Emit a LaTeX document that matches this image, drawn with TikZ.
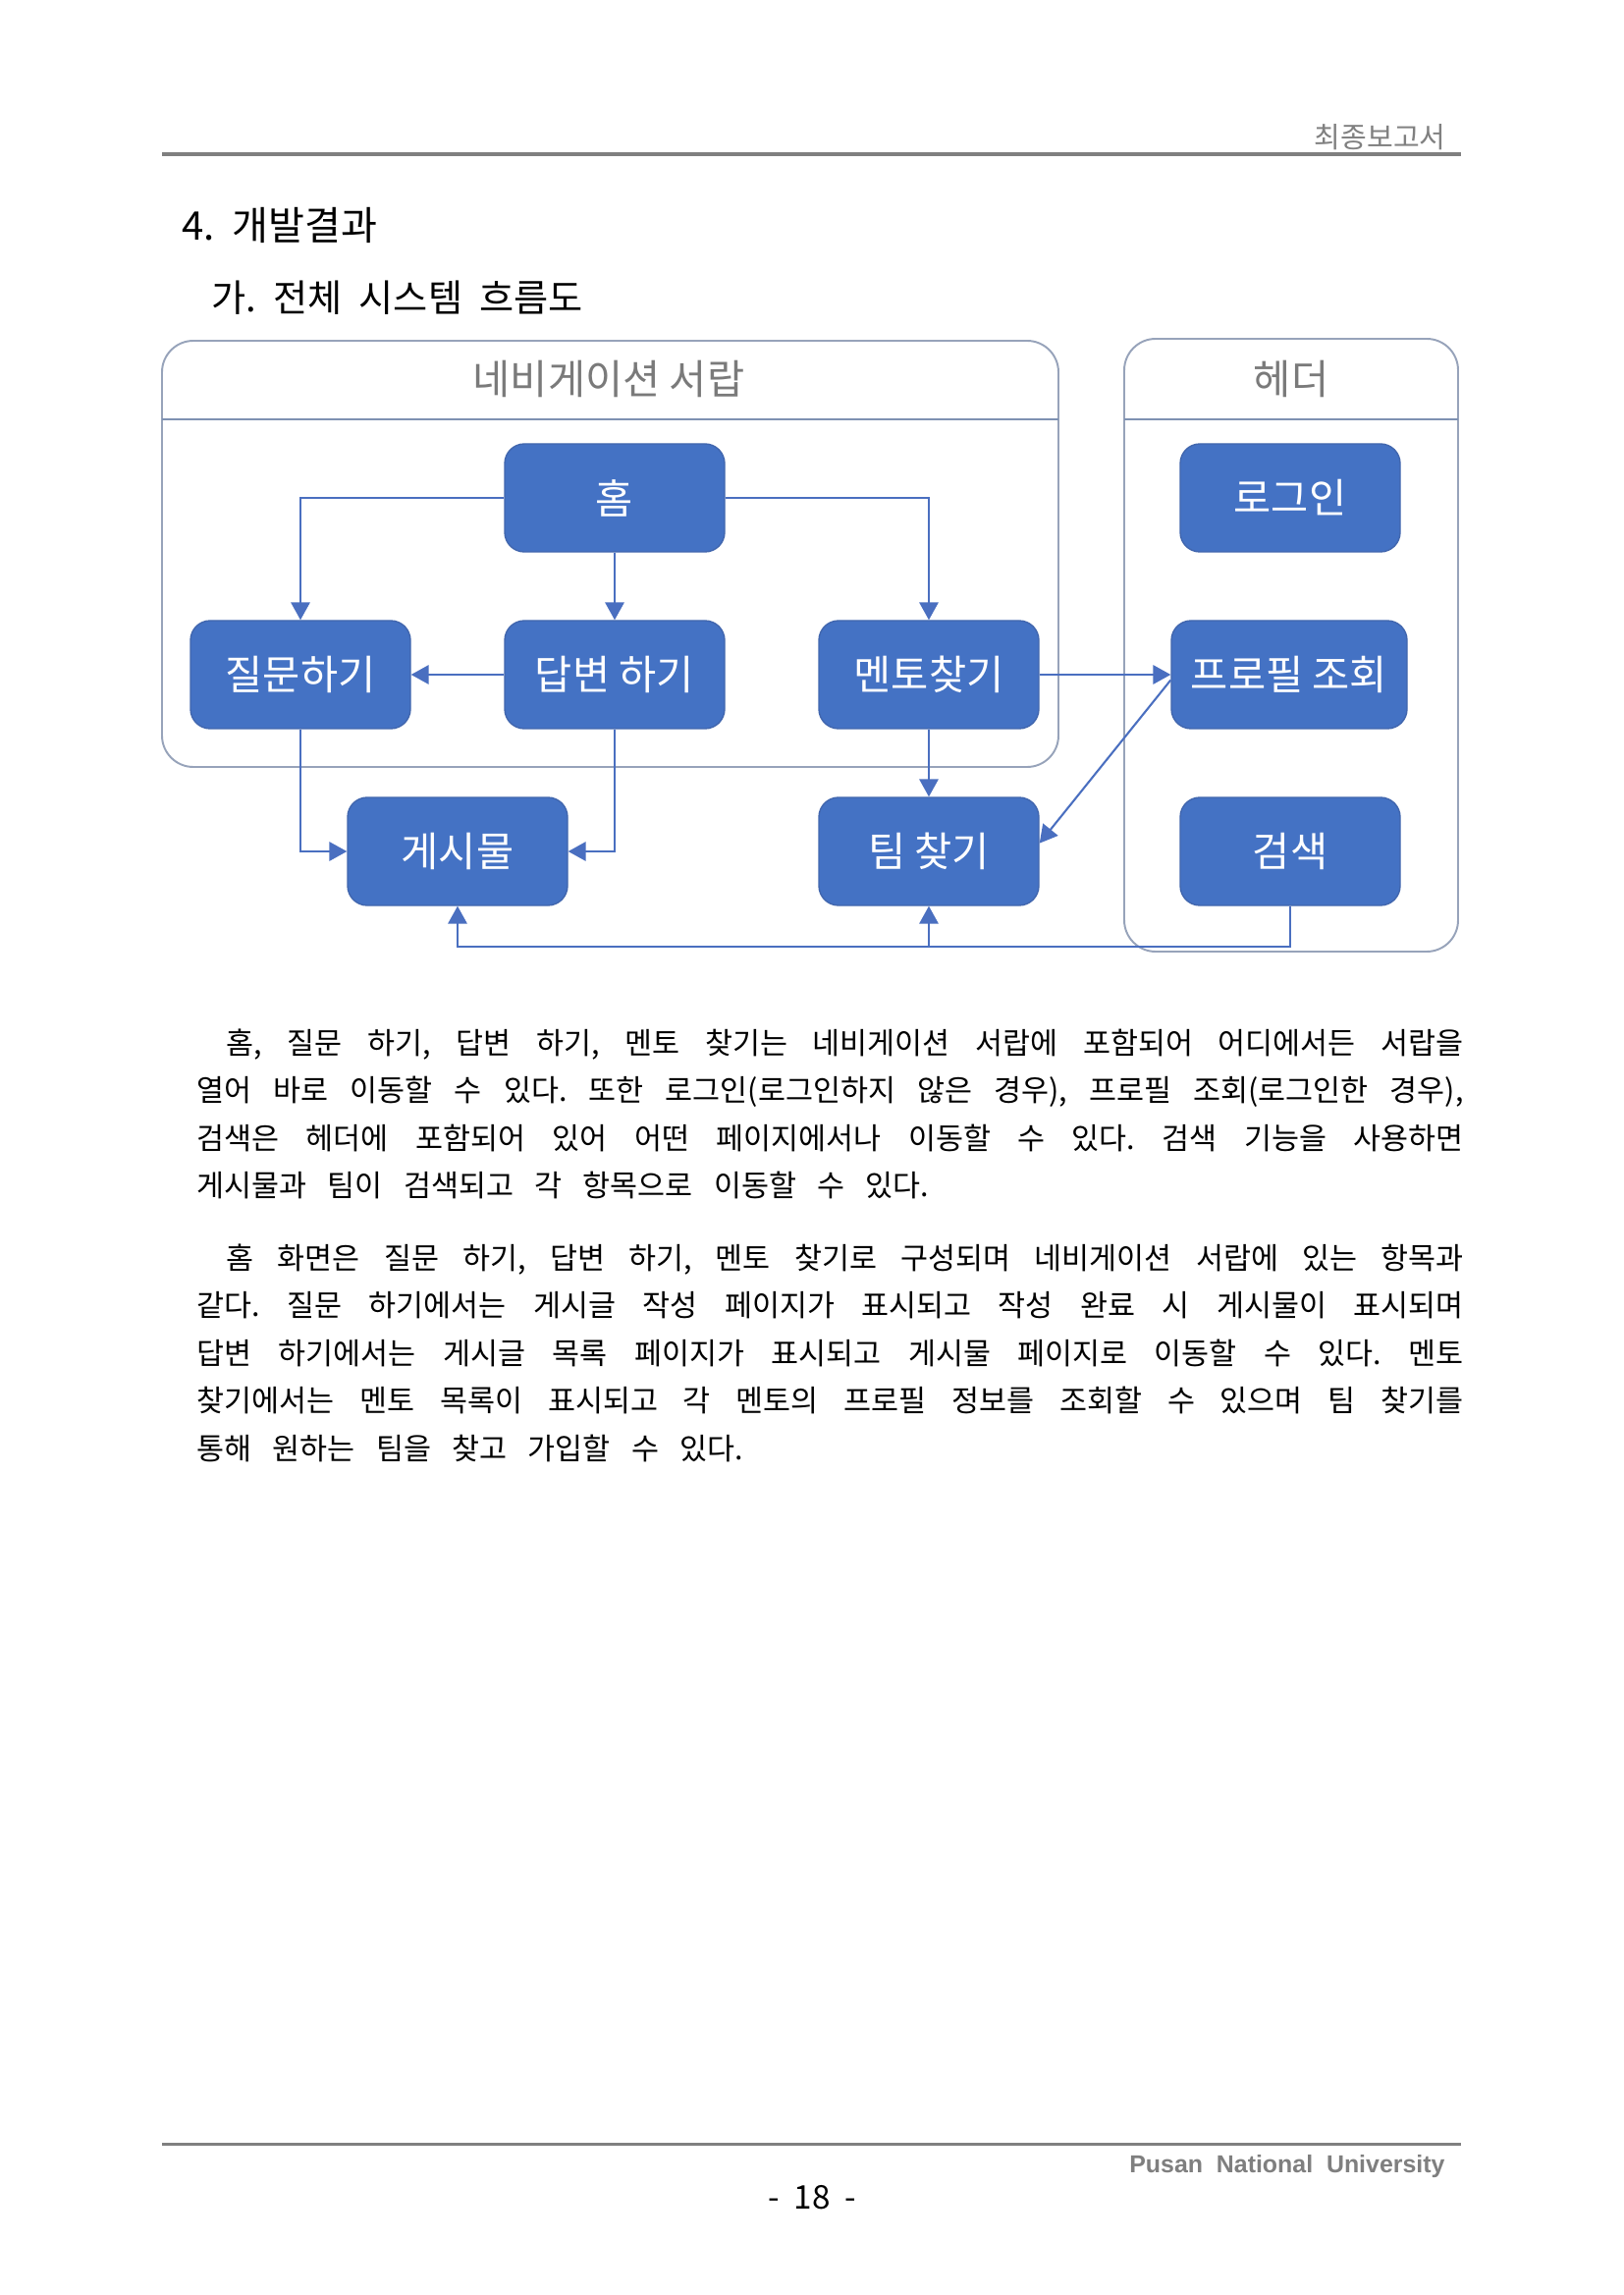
\documentclass[tikz,border=0pt]{standalone}
\usepackage{fontspec}
\setmainfont{Noto Sans CJK KR}
\newfontfamily\arialbold{Liberation Sans}[BoldFont={* Bold}]
\usetikzlibrary{arrows.meta}
\newlength\px
\setlength\px{0.127mm}
\definecolor{boxblue}{HTML}{4472C4}
\definecolor{boxedge}{HTML}{4166AE}
\definecolor{linkblue}{HTML}{4A6FC0}
\definecolor{frame}{HTML}{97A3BA}
\definecolor{sepline}{HTML}{7E91B2}
\definecolor{titlegray}{HTML}{7A7A7A}
\definecolor{rulegray}{HTML}{7F7F7F}
\newcommand{\jline}[2]{\makebox[#1\px][s]{#2}}
\newcommand{\bodyfont}{\fontsize{11pt}{13pt}\selectfont\spaceskip=0.7em plus 0.4em minus 0.3em\relax}
\frenchspacing
\begin{document}
\begin{tikzpicture}[x=0.127mm,y=-0.127mm,
  flowbox/.style={draw=boxedge, line width=0.5pt, fill=boxblue, rounded corners=20\px,
    minimum width=224\px, minimum height=110\px, inner sep=0pt, text=white,
    font=\fontsize{15pt}{18pt}\selectfont},
  container/.style={draw=frame, line width=0.7pt, fill=white, rounded corners=32\px},
  ctitle/.style={text=titlegray, inner sep=0pt, font=\fontsize{15pt}{18pt}\selectfont},
  conn/.style={draw=linkblue, line width=0.75pt, -{Triangle[length=6.5pt,width=7pt]}},
  body/.style={anchor=base west, inner sep=0pt, font=\bodyfont},
  rulestyle/.style={draw=rulegray, line width=1.1pt}
  ]
\useasboundingbox[fill=white] (0,0) rectangle (1653,2337);

% page header
\draw[rulestyle] (165,157) -- (1488,157);
\node[anchor=base east, inner sep=0pt, text=gray, font=\fontsize{10.5pt}{12pt}\selectfont] (hdr) at (1473,151) {최종보고서};

% headings
\node[anchor=base west, inner sep=0pt, font=\fontsize{14.5pt}{17pt}\selectfont] (h1) at (185,245) {4.\ \ 개발결과};
\node[anchor=base west, inner sep=0pt, font=\fontsize{13.8pt}{16pt}\selectfont] (h2) at (215,318) {가.\ \ 전체\ \ 시스템\ \ 흐름도};

% containers
\draw[container] (165,347) rectangle (1078,781);
\draw[draw=sepline, line width=1pt] (165,427) -- (1078,427);
\node[ctitle] (navtitle) at (620,386) {네비게이션 서랍};
\draw[container] (1145,345) rectangle (1485,969);
\draw[draw=sepline, line width=1pt] (1145,427) -- (1485,427);
\node[ctitle] (hdtitle) at (1315,386) {헤더};

% boxes
\node[flowbox] (home) at (626,507) {홈};
\node[flowbox] (ask) at (306,687) {질문하기};
\node[flowbox] (ans) at (626,687) {답변 하기};
\node[flowbox] (mentor) at (946,687) {멘토찾기};
\node[flowbox] (post) at (466,867) {게시물};
\node[flowbox] (team) at (946,867) {팀 찾기};
\node[flowbox] (login) at (1314,507) {로그인};
\node[flowbox, minimum width=240\px] (profile) at (1313,687) {프로필 조회};
\node[flowbox] (search) at (1314,867) {검색};
\coordinate (bus) at (1314,964);

% connectors
\draw[conn] (home.west) -| (ask.north);
\draw[conn] (home.south) -- (ans.north);
\draw[conn] (home.east) -| (mentor.north);
\draw[conn] (ans.west) -- (ask.east);
\draw[conn] (mentor.east) -- (profile.west);
\draw[conn] (mentor.south) -- (team.north);
\draw[conn] (ask.south) |- (post.west);
\draw[conn] (ans.south) |- (post.east);
\draw[conn] ([yshift=-2pt]profile.west) -- ([yshift=3pt]team.east);
\draw[conn] (search.south) |- (bus -| post.south) -- (post.south);
\draw[conn] (bus -| team.south) -- (team.south);

% body text
\node[body] (p1a) at (230,1073) {\jline{1260}{홈, 질문 하기, 답변 하기, 멘토 찾기는 네비게이션 서랍에 포함되어 어디에서든 서랍을}};
\node[body] (p1b) at (200,1121.5) {\jline{1290}{열어 바로 이동할 수 있다. 또한 로그인(로그인하지 않은 경우), 프로필 조회(로그인한 경우),}};
\node[body] (p1c) at (200,1170) {\jline{1290}{검색은 헤더에 포함되어 있어 어떤 페이지에서나 이동할 수 있다. 검색 기능을 사용하면}};
\node[body] (p1d) at (200,1218.5) {게시물과 팀이 검색되고 각 항목으로 이동할 수 있다.};

\node[body] (p2a) at (230,1292) {\jline{1260}{홈 화면은 질문 하기, 답변 하기, 멘토 찾기로 구성되며 네비게이션 서랍에 있는 항목과}};
\node[body] (p2b) at (200,1340.5) {\jline{1290}{같다. 질문 하기에서는 게시글 작성 페이지가 표시되고 작성 완료 시 게시물이 표시되며}};
\node[body] (p2c) at (200,1389) {\jline{1290}{답변 하기에서는 게시글 목록 페이지가 표시되고 게시물 페이지로 이동할 수 있다. 멘토}};
\node[body] (p2d) at (200,1437.5) {\jline{1290}{찾기에서는 멘토 목록이 표시되고 각 멘토의 프로필 정보를 조회할 수 있으며 팀 찾기를}};
\node[body] (p2e) at (200,1486) {통해 원하는 팀을 찾고 가입할 수 있다.};

% footer
\draw[rulestyle] (165,2183) -- (1488,2183);
\node[anchor=base east, inner sep=0pt, text=rulegray, font=\arialbold\bfseries\fontsize{9pt}{11pt}\selectfont] (uni) at (1472,2212) {Pusan\ \ National\ \ University};
\node[inner sep=0pt, font=\fontsize{12pt}{14pt}\selectfont] (pg) at (827,2238) {-\ \ 18\ \ -};
\end{tikzpicture}
\end{document}
